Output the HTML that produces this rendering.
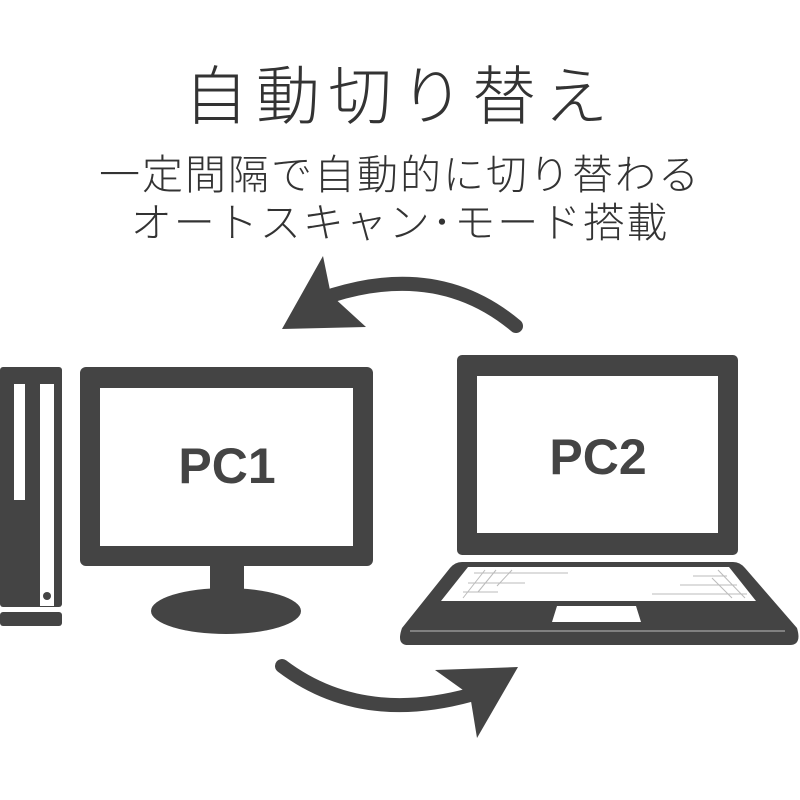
<!DOCTYPE html>
<html><head><meta charset="utf-8"><style>
body{margin:0;background:#fff;}
.t{position:absolute;left:0;width:800px;text-align:center;color:#333;font-family:"Liberation Sans","Noto Sans CJK JP",sans-serif;font-weight:300;white-space:nowrap}
</style></head><body>
<div style="position:relative;width:800px;height:800px;overflow:hidden">
<div class="t" style="top:46px;font-size:64px;letter-spacing:8px;">自動切り替え</div>
<div class="t" style="top:141px;font-size:41px;letter-spacing:2px;">一定間隔で自動的に切り替わる</div>
<div class="t" style="top:189px;font-size:41px;letter-spacing:2px;">オートスキャン･モード搭載</div>
<svg width="800" height="800" style="position:absolute;left:0;top:0" xmlns="http://www.w3.org/2000/svg">
<g fill="#444">
<rect x="0" y="367" width="62" height="240" rx="3"/>
<rect x="0" y="612" width="62" height="14" rx="3"/>
<rect x="14" y="384" width="11" height="116" fill="#fff"/>
<rect x="40" y="384" width="14" height="222" fill="#fff"/>
<circle cx="47" cy="596" r="4"/>
<rect x="80" y="367" width="293" height="199" rx="6"/>
<rect x="100" y="388" width="253" height="158" fill="#fff"/>
<rect x="210" y="565" width="34" height="32"/>
<ellipse cx="226" cy="611" rx="75" ry="23"/>
<rect x="457" y="355" width="281" height="200" rx="5"/>
<rect x="477" y="376" width="241" height="157" fill="#fff"/>
<path d="M462 562 L733 562 Q740 562 745 568 L797 628 Q802 645 790 645 L408 645 Q396 645 402 628 L450 568 Q455 562 462 562Z"/>
<path d="M468 567 L729 567 L756 601 L441 601Z" fill="#fff"/>
<path d="M557 606 L636 606 L641 622 L552 622Z" fill="#fff"/>
<line x1="410" y1="631" x2="785" y2="631" stroke="#bbb" stroke-width="1"/>
<g stroke="#bbb" stroke-width="1">
<line x1="474" y1="573" x2="568" y2="573"/><line x1="468" y1="583" x2="525" y2="583"/><line x1="463" y1="592" x2="498" y2="592"/>
<line x1="485" y1="570" x2="463" y2="598"/><line x1="496" y1="570" x2="478" y2="592"/><line x1="512" y1="570" x2="497" y2="586"/>
<line x1="693" y1="576" x2="727" y2="576"/><line x1="680" y1="585" x2="737" y2="585"/><line x1="652" y1="594" x2="747" y2="594"/>
<line x1="718" y1="570" x2="745" y2="598"/><line x1="712" y1="578" x2="732" y2="598"/>
</g>
<path d="M516 326 Q440 262 333 295" fill="none" stroke="#444" stroke-width="14" stroke-linecap="round"/>
<path d="M323 256 L282 329 L366 327 L331 295Z"/>
<path d="M282 666 Q360 725 470 695" fill="none" stroke="#444" stroke-width="14" stroke-linecap="round"/>
<path d="M435 670 L518 667 L477 738 L470 695Z"/>
</g>
<g font-family="Liberation Sans, sans-serif" font-weight="bold" font-size="50" fill="#444" text-anchor="middle">
<text x="227" y="483">PC1</text>
<text x="598" y="474">PC2</text>
</g>
</svg>
</div>
</body></html>
